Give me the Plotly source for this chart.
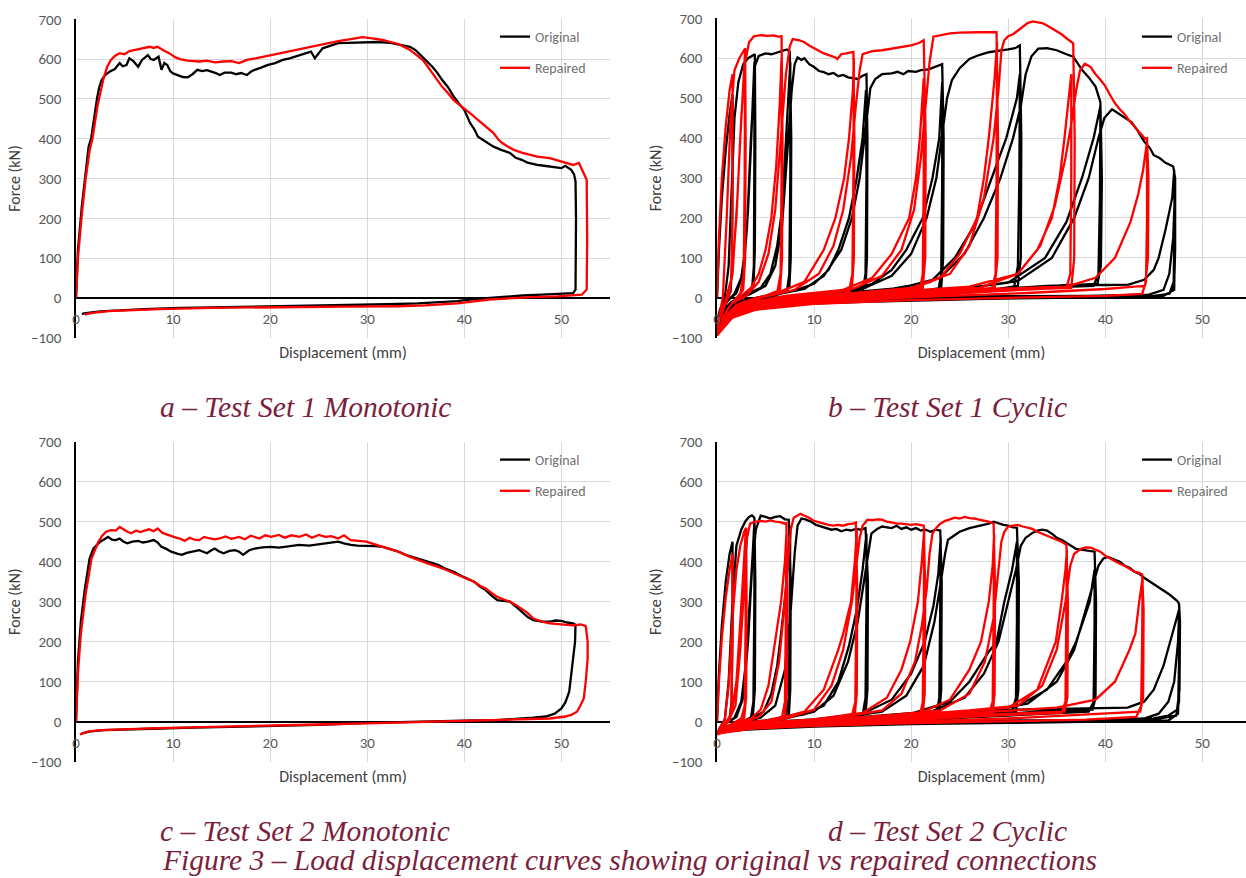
import plotly.graph_objects as go

# ---------------- data (displacement mm, force kN) ----------------
a_original = [(0,0),(0.2,120),(0.6,230),(1.0,320),(1.3,380),(1.56,401),(1.9,460),(2.17,502),(2.4,530),(2.66,548),(3.0,560),(3.5,569),(4.0,575),(4.5,590),(4.8,582),(5.2,585),(5.5,602),(5.9,595),(6.4,581),(6.8,598),(7.4,610),(7.7,600),(8.0,598),(8.5,606),(8.8,573),(9.1,590),(9.4,585),(9.7,570),(10.0,564),(10.5,560),(11.0,555),(11.5,554),(12.0,562),(12.5,573),(13.0,570),(13.5,572),(13.9,569),(14.4,565),(14.8,560),(15.3,566),(16.0,566),(16.5,562),(17.0,565),(17.6,560),(18.0,568),(18.4,573),(19.0,578),(19.7,585),(20.5,590),(21.3,598),(22.0,602),(23.0,610),(23.6,614),(24.2,619),(24.6,602),(25.0,615),(25.4,627),(26.0,632),(27.0,640),(28.0,641),(29.0,642),(29.9,642),(31.0,643),(32.4,641),(33.5,636),(34.4,631),(35.0,622),(35.7,606),(36.2,595),(36.7,581),(37.2,566),(37.7,548),(38.3,530),(38.9,506),(39.4,490),(40.0,472),(40.6,439),(41.0,425),(41.4,405),(42.0,395),(42.5,388),(43.0,380),(43.8,372),(44.7,364),(45.3,352),(45.9,347),(46.5,340),(47.5,334),(48.2,332),(48.8,330),(49.4,327),(50.0,326),(50.4,332),(51.0,322),(51.3,310),(51.45,293),(51.5,200),(51.5,80),(51.45,21),(51.2,12),(50.0,10),(48,8),(46,6),(44,3),(42,0),(40.5,-4),(39.3,-8),(37,-12),(35.2,-14),(32,-16),(29,-17),(25,-19),(20.9,-21),(15,-23),(10.7,-25),(7,-28),(4.5,-31),(2.5,-34),(1.0,-38),(0.6,-40)]

a_repaired = [(0,0),(0.2,100),(0.6,210),(1.0,300),(1.4,370),(1.7,401),(2.2,480),(2.8,548),(3.2,580),(3.6,598),(4.0,608),(4.5,615),(5.0,612),(5.5,620),(6.1,623),(6.8,626),(7.6,631),(8.0,628),(8.4,631),(9.0,622),(9.6,615),(10.2,605),(10.7,600),(11.5,596),(12.7,594),(13.5,596),(14.3,592),(15.2,594),(16.0,595),(16.8,590),(17.6,598),(18.5,602),(19.3,606),(20.1,610),(20.9,615),(22.0,620),(23.4,627),(24.5,633),(25.8,640),(27.0,645),(28.3,650),(29.5,655),(30.5,652),(31.6,648),(32.4,643),(33.2,638),(34.4,623),(35.0,612),(35.7,598),(36.2,582),(36.7,564),(37.2,548),(37.7,531),(38.3,515),(38.9,497),(39.5,485),(40.2,472),(40.8,460),(41.4,447),(42.2,430),(43.0,414),(43.5,398),(43.9,389),(44.5,380),(45.1,372),(45.9,365),(46.7,360),(47.5,355),(48.8,351),(49.5,346),(50.0,343),(50.6,338),(51.2,334),(51.8,339),(52.3,314),(52.6,297),(52.65,150),(52.6,21),(52.1,8),(51.0,6),(49.6,4),(47,2),(44.5,-1),(42.6,-4),(41,-9),(39.3,-14),(36,-19),(33.2,-21),(28,-22),(20,-23),(14,-25),(8.6,-28),(5,-31),(3.3,-33),(1.5,-38),(0.9,-42)]

c_original = [(0,0),(0.2,150),(0.5,250),(0.9,330),(1.4,408),(1.8,433),(2.5,450),(3.3,462),(3.7,455),(4.1,454),(4.5,458),(4.9,450),(5.3,446),(5.8,450),(6.4,452),(6.9,448),(7.4,450),(8.0,454),(8.4,448),(8.8,437),(9.3,432),(9.8,425),(10.4,420),(10.9,417),(11.4,422),(11.9,425),(12.3,427),(12.7,429),(13.1,425),(13.5,421),(13.9,428),(14.3,433),(14.7,426),(15.2,421),(15.8,427),(16.4,429),(16.8,425),(17.2,417),(17.8,428),(18.4,433),(19.2,436),(20.1,437),(20.9,435),(21.8,438),(22.5,440),(23.0,442),(24.0,440),(25.0,443),(25.8,446),(26.5,448),(27.0,450),(27.6,446),(28.3,442),(29.0,440),(29.9,440),(30.8,439),(31.6,437),(32.4,431),(33.2,425),(34.2,415),(35.2,408),(36.2,400),(37.3,392),(38.1,382),(38.9,375),(39.9,362),(41.0,350),(41.6,338),(42.2,329),(42.8,315),(43.4,304),(44.0,302),(44.7,300),(45.3,288),(45.9,275),(46.5,262),(47.1,254),(48.0,250),(48.8,250),(49.4,253),(50.0,252),(50.6,248),(51.2,246),(51.45,242),(51.4,200),(51.2,158),(51.0,110),(50.8,75),(50.4,48),(50.0,33),(49.3,20),(48.4,13),(47.1,10),(45,7),(43.4,4),(41,3),(39.3,2),(35,0),(30,-3),(25,-8),(20,-10),(16.8,-13),(12,-15),(8.6,-17),(5,-19),(2.9,-21),(1.5,-24),(0.6,-29)]

c_repaired = [(0,0),(0.2,120),(0.5,220),(1.0,320),(1.6,408),(2.3,450),(2.7,465),(3.1,475),(3.6,479),(4.1,478),(4.5,487),(4.9,480),(5.3,475),(5.7,471),(6.2,478),(6.6,474),(7.0,477),(7.5,481),(8.0,476),(8.4,483),(8.9,472),(9.4,467),(9.9,464),(10.3,460),(10.7,458),(11.2,452),(11.7,460),(12.2,455),(12.7,454),(13.2,462),(13.8,458),(14.3,456),(14.8,458),(15.4,463),(16.0,457),(16.8,462),(17.4,456),(18.0,465),(18.9,458),(19.5,466),(20.1,462),(20.9,467),(21.5,460),(22.2,466),(23.0,462),(23.7,468),(24.3,460),(25.0,467),(25.7,462),(26.3,464),(27.0,458),(27.6,466),(28.3,454),(29.1,452),(29.9,450),(30.7,444),(31.6,437),(32.4,431),(33.2,425),(34.2,414),(35.2,404),(36.2,396),(37.3,387),(38.1,380),(38.9,371),(40.0,360),(41.0,350),(41.6,340),(42.2,333),(42.8,322),(43.4,312),(44.0,306),(44.7,300),(45.3,292),(45.9,283),(46.5,272),(47.1,258),(48.0,250),(48.8,246),(49.6,244),(50.4,242),(51.2,241),(52.0,243),(52.5,239),(52.7,200),(52.7,158),(52.5,100),(52.3,58),(51.9,38),(51.6,25),(51.0,17),(50.4,13),(48.8,8),(46,6),(43.4,4),(40,2),(35,-1),(30,-4),(25,-7),(20,-9),(16.8,-12),(12,-14),(8.6,-16),(5,-18),(2.5,-21),(1.2,-25),(0.4,-32)]

b_original = [(0,0),(0.2,120),(0.5,250),(0.9,370),(1.3,460),(1.6,510),
 (1.6,300),(1.55,80),(1.4,15),(1.0,-5),(0.5,-25),(0.1,-50),
 (0.3,-30),(0.8,0),(1.2,80),(1.5,250),(1.8,450),(2.2,540),(2.7,585),(3.2,600),(3.6,606),(3.9,610),
 (3.95,400),(3.9,120),(3.75,25),(3.0,8),(2.0,-8),(1.0,-28),(0.4,-48),(0.05,-68),
 (0.3,-40),(1.0,-10),(1.8,10),(2.5,50),(2.9,120),(3.2,220),(3.5,380),(3.7,500),(3.85,590),
 (3.85,350),(3.8,80),(3.6,18),(2.8,2),(1.6,-18),(0.6,-42),(0.05,-66),
 (0.4,-32),(1.2,-5),(2.0,12),(2.7,60),(3.1,180),(3.5,400),(3.9,580),(4.3,606),(5.0,612),(5.6,610),(6.2,615),(6.8,618),(7.2,622),(7.5,616),
 (7.65,400),(7.6,100),(7.45,25),(6.0,8),(4.0,-5),(2.0,-24),(0.8,-45),(0.08,-70),
 (0.5,-35),(1.5,-10),(3.0,8),(4.5,25),(5.5,60),(6.2,130),(6.7,220),(7.1,380),(7.4,520),(7.55,590),
 (7.55,300),(7.45,60),(7.2,15),(5.5,2),(3.5,-12),(1.5,-32),(0.5,-52),(0.06,-70),
 (0.5,-30),(2.0,-5),(3.5,10),(5.0,30),(6.0,80),(6.7,180),(7.3,380),(7.7,520),(8.0,585),(8.3,602),(8.7,596),(9.0,600),(9.5,585),(10.0,578),(10.5,568),(11.0,565),(11.5,560),(12.0,563),(12.5,555),(13.0,558),(13.5,552),(14.0,550),(14.5,548),(15.0,556),(15.4,560),
 (15.5,400),(15.45,100),(15.3,25),(13.0,10),(10.0,0),(6.0,-10),(3.0,-22),(1.2,-40),(0.1,-72),
 (0.6,-35),(2.5,-8),(5.0,5),(8.0,18),(10.0,35),(11.5,70),(12.5,120),(13.6,200),(14.4,300),(15.0,400),(15.35,520),
 (15.4,300),(15.3,60),(15.0,15),(12.0,5),(8.0,-5),(4.0,-18),(1.5,-35),(0.1,-70),
 (0.6,-30),(3.0,-5),(6.0,8),(9.0,22),(11.0,55),(12.8,120),(13.9,200),(14.7,300),(15.2,400),(15.5,470),(15.8,525),(16.3,548),(17.0,560),(18.0,562),(18.6,566),(19.2,560),(19.7,568),(20.5,566),(21.0,570),(21.8,572),(22.5,578),(23.2,585),
 (23.35,400),(23.3,100),(23.1,25),(20.0,12),(15.0,2),(10.0,-8),(5.0,-18),(2.0,-32),(0.1,-72),
 (0.6,-35),(3.0,-8),(8.0,5),(13.0,15),(16.0,35),(18.0,70),(19.5,120),(21.2,200),(22.2,300),(22.9,400),(23.2,540),
 (23.2,300),(23.1,60),(22.8,18),(18.0,8),(12.0,0),(6.0,-12),(2.0,-30),(0.1,-68),
 (0.6,-30),(4.0,-5),(10.0,8),(15.0,22),(18.0,55),(20.0,110),(21.6,200),(22.6,300),(23.3,420),(23.7,500),(24.2,545),(25.0,575),(26.0,598),(27.0,608),(28.0,615),(29.0,618),(30.0,622),(30.7,625),(31.2,632),
 (31.35,400),(31.3,100),(31.0,30),(27.0,15),(20.0,5),(13.0,-5),(6.0,-15),(2.0,-32),(0.1,-70),
 (0.6,-35),(4.0,-8),(10.0,5),(17.0,18),(22.0,40),(24.5,100),(26.5,180),(28.3,300),(29.8,400),(30.9,500),(31.2,560),
 (31.15,300),(31.0,80),(30.6,25),(25.0,12),(18.0,3),(10.0,-8),(4.0,-20),(1.0,-40),(0.1,-68),
 (0.6,-30),(5.0,-3),(12.0,10),(19.0,25),(23.0,50),(25.5,110),(27.5,200),(29.2,300),(30.5,400),(31.3,480),(31.8,560),(32.4,605),(33.1,624),(34.0,625),(35.0,620),(36.0,610),(36.7,604),(37.6,571),(38.3,552),(39.0,529),(39.5,490),
 (39.65,300),(39.55,80),(39.2,35),(34.0,30),(28.0,20),(20.0,8),(12.0,-5),(5.0,-15),(1.0,-38),(0.1,-66),
 (0.6,-30),(5.0,-5),(15.0,10),(25.0,22),(30.0,38),(33.8,100),(36.0,190),(37.6,300),(38.8,400),(39.5,480),
 (39.45,250),(39.3,60),(38.8,30),(33.0,25),(25.0,12),(15.0,0),(6.0,-12),(1.0,-35),(0.1,-64),
 (0.6,-28),(6.0,-2),(16.0,12),(26.0,25),(31.0,42),(34.5,100),(36.8,200),(38.3,300),(39.3,400),(39.9,450),(40.7,472),(41.3,462),(42.0,452),(42.7,440),(43.3,420),(44.0,392),(44.6,375),(45.0,357),(45.6,350),(46.2,338),(46.6,334),(47.0,329),
 (47.2,300),(47.2,120),(47.1,30),(46.6,10),(45.0,5),(40.0,2),(33.0,0),(25.0,-5),(15.0,-10),(6.0,-18),(1.0,-35),(0.1,-60),
 (0.6,-25),(5.0,-5),(15.0,8),(25.0,16),(31.0,25),(36.2,32),(40.0,32),(42.4,33),(44.0,45),(45.0,70),(45.5,100),(46.2,170),(46.9,250),(47.1,320),
 (47.15,200),(47.05,40),(46.6,10),(45.0,5),(40.0,2),(30.0,-2),(20.0,-6),(8.0,-14),(2.0,-25),(0.5,-40),
 (0.6,-22),(10.0,2),(20.0,3),(30.0,4),(38.0,5),(44.5,8),(46.0,20),(46.6,60),(47.0,150),(47.2,280),
 (47.2,150),(47.1,20),(46.0,5),(35.0,0),(25.0,-3),(15.0,-8),(6.0,-15)]

b_repaired = [(0,0),(0.2,150),(0.5,300),(0.9,430),(1.3,520),(1.6,560),
 (1.6,300),(1.5,60),(1.3,10),(0.9,-15),(0.4,-45),(0.02,-85),
 (0.2,-50),(0.6,0),(1.0,200),(1.4,450),(1.8,570),(2.3,600),(2.9,625),
 (2.95,400),(2.9,100),(2.7,20),(2.0,0),(1.2,-25),(0.5,-55),(0.02,-90),
 (0.3,-50),(0.9,-5),(1.5,50),(2.0,200),(2.4,400),(2.75,580),(2.9,620),
 (2.85,300),(2.75,60),(2.4,10),(1.5,-15),(0.7,-45),(0.02,-90),
 (0.3,-50),(1.0,-5),(1.6,60),(2.1,250),(2.5,450),(2.9,590),(3.3,640),(3.8,655),(4.5,658),(5.2,656),(5.8,657),(6.3,654),(6.65,655),
 (6.75,400),(6.7,100),(6.5,20),(5.0,5),(3.0,-12),(1.5,-35),(0.5,-60),(0.02,-92),
 (0.4,-55),(1.5,-15),(2.5,5),(3.5,25),(4.3,60),(5.0,120),(5.6,200),(6.1,330),(6.45,480),(6.65,600),
 (6.65,300),(6.55,60),(6.2,12),(4.5,0),(2.5,-18),(1.0,-45),(0.02,-93),
 (0.4,-55),(1.5,-15),(3.0,5),(4.3,40),(5.3,110),(6.0,220),(6.6,400),(7.1,560),(7.5,630),(7.8,648),(8.5,645),(9.0,640),(9.5,632),(10.0,625),(10.5,618),(11.0,612),(11.6,607),(12.2,602),(12.4,598),(12.8,610),(13.3,612),(13.8,615),(14.05,616),
 (14.15,400),(14.1,100),(13.9,25),(11.0,10),(8.0,0),(5.0,-12),(2.5,-30),(1.0,-55),(0.02,-95),
 (0.5,-55),(2.0,-18),(4.0,0),(6.0,10),(9.0,40),(11.0,120),(12.2,200),(13.1,300),(13.6,400),(14.0,520),(14.1,600),
 (14.05,300),(13.95,60),(13.6,15),(10.0,5),(6.0,-5),(3.0,-22),(1.0,-50),(0.02,-94),
 (0.5,-52),(2.5,-12),(5.0,3),(8.0,20),(10.5,60),(12.0,130),(13.0,220),(13.8,350),(14.3,480),(14.7,570),(15.0,610),(16.0,618),(17.0,620),(18.0,624),(19.0,628),(20.0,632),(20.8,638),(21.3,645),
 (21.5,400),(21.45,100),(21.2,25),(17.0,12),(12.0,2),(7.0,-10),(3.0,-28),(1.0,-55),(0.02,-95),
 (0.5,-55),(3.0,-15),(7.0,5),(13.0,20),(16.0,50),(18.0,110),(19.8,200),(20.5,300),(20.9,400),(21.3,550),
 (21.3,300),(21.2,60),(20.9,18),(16.0,8),(10.0,-2),(5.0,-15),(2.0,-35),(0.02,-94),
 (0.5,-50),(3.0,-12),(8.0,5),(14.0,22),(17.0,55),(19.0,120),(20.3,220),(21.0,350),(21.5,480),(21.9,590),(22.3,654),(23.0,658),(24.0,662),(25.0,664),(26.0,665),(27.0,665),(28.0,665),(28.8,665),
 (28.95,400),(28.9,100),(28.6,25),(23.0,15),(15.0,3),(8.0,-10),(3.0,-28),(1.0,-55),(0.02,-95),
 (0.5,-55),(4.0,-12),(10.0,5),(20.0,22),(23.0,50),(25.0,110),(26.8,200),(27.5,300),(28.0,400),(28.6,550),(28.85,640),
 (28.8,300),(28.7,60),(28.3,20),(22.0,12),(14.0,0),(6.0,-15),(2.0,-38),(0.02,-94),
 (0.5,-52),(4.0,-10),(12.0,8),(20.0,25),(24.0,60),(26.0,130),(27.5,250),(28.5,400),(29.0,520),(29.3,620),(29.6,645),(30.0,655),(30.5,660),(31.0,670),(31.6,680),(32.0,688),(32.5,692),(33.0,690),(33.5,688),(34.0,682),(34.5,675),(35.0,668),(35.5,660),(36.0,650),(36.5,640),(36.7,637),
 (36.85,400),(36.8,100),(36.5,25),(30.0,20),(22.0,8),(12.0,-5),(5.0,-20),(1.5,-45),(0.02,-95),
 (0.5,-55),(5.0,-12),(15.0,8),(27.0,25),(31.0,60),(33.0,120),(34.5,200),(35.3,300),(35.8,400),(36.5,560),
 (36.5,300),(36.4,60),(36.0,25),(30.0,18),(20.0,5),(10.0,-8),(4.0,-25),(1.0,-50),(0.02,-94),
 (0.5,-52),(5.0,-8),(15.0,10),(26.0,28),(31.0,60),(33.3,130),(34.8,230),(35.9,350),(36.6,450),(37.0,520),(37.4,570),(37.9,586),(38.5,578),(39.0,560),(39.5,546),(40.0,530),(40.5,508),(41.0,487),(41.5,472),(42.0,460),(42.4,446),(43.0,430),(43.6,412),(44.1,398),(44.3,400),
 (44.45,300),(44.4,100),(44.1,30),(40.0,22),(32.0,12),(22.0,3),(12.0,-8),(5.0,-22),(1.0,-50),(0.02,-92),
 (0.5,-50),(5.0,-10),(15.0,8),(28.0,22),(36.0,28),(39.0,50),(41.0,100),(42.6,190),(43.4,260),(43.9,320),(44.3,390),
 (44.3,200),(44.2,40),(43.8,10),(40.0,5),(30.0,0),(20.0,-6),(10.0,-15),(4.0,-30),(1.0,-55),(0.1,-85)]

d_original = [(0,0),(0.2,120),(0.5,240),(0.9,350),(1.3,420),(1.6,450),
 (1.6,250),(1.5,50),(1.3,8),(0.8,-8),(0.3,-20),(0.02,-30),
 (0.3,-15),(0.8,5),(1.2,100),(1.6,300),(2.0,440),(2.5,480),(2.9,500),(3.3,512),(3.6,516),(3.85,510),
 (3.95,350),(3.9,80),(3.7,15),(3.0,3),(2.0,-5),(1.0,-14),(0.3,-24),(0.02,-30),
 (0.3,-18),(1.0,-3),(1.8,10),(2.5,50),(3.0,150),(3.4,300),(3.7,430),(3.85,500),
 (3.85,300),(3.75,50),(3.5,10),(2.5,0),(1.5,-8),(0.5,-20),(0.02,-30),
 (0.4,-15),(1.2,0),(2.0,12),(2.7,60),(3.2,200),(3.6,380),(4.0,480),(4.5,515),(5.0,512),(5.5,508),(6.0,512),(6.5,514),(7.0,506),(7.4,505),
 (7.6,350),(7.55,80),(7.4,15),(6.0,3),(4.0,-5),(2.0,-12),(0.6,-22),(0.02,-30),
 (0.5,-16),(2.0,-3),(3.5,8),(4.8,25),(5.6,70),(6.2,140),(6.6,220),(7.1,330),(7.4,430),(7.55,490),
 (7.5,300),(7.4,60),(7.1,12),(5.0,2),(3.0,-6),(1.0,-18),(0.02,-30),
 (0.5,-15),(2.5,-2),(4.5,10),(6.0,40),(7.0,130),(7.6,280),(8.0,420),(8.3,490),(8.7,508),(9.2,505),(9.7,500),(10.2,492),(10.8,488),(11.3,485),(11.8,480),(12.3,482),(12.8,476),(13.3,480),(13.8,478),(14.3,482),(14.8,480),(15.3,484),
 (15.55,350),(15.5,80),(15.3,20),(12.0,8),(8.0,0),(4.0,-8),(1.5,-16),(0.02,-30),
 (0.5,-16),(3.0,-3),(6.0,6),(9.0,18),(11.0,40),(12.5,100),(13.6,190),(14.4,280),(15.0,380),(15.4,470),
 (15.4,300),(15.3,60),(15.0,15),(11.0,5),(6.0,-3),(2.0,-14),(0.02,-29),
 (0.5,-14),(3.0,-2),(7.0,8),(10.0,25),(12.0,65),(13.5,150),(14.5,250),(15.2,360),(15.6,430),(15.9,470),(16.5,482),(17.0,488),(17.5,486),(18.0,484),(18.5,490),(19.0,482),(19.5,486),(20.0,480),(20.5,484),(21.0,478),(21.5,480),(22.0,475),(22.5,480),(23.0,478),
 (23.15,350),(23.1,80),(22.9,20),(18.0,10),(12.0,0),(6.0,-8),(2.0,-16),(0.02,-30),
 (0.5,-16),(4.0,-3),(10.0,6),(15.0,20),(18.0,55),(20.0,120),(21.4,200),(22.3,290),(22.8,370),(23.05,460),
 (23.0,300),(22.9,60),(22.6,15),(17.0,6),(10.0,-3),(4.0,-12),(0.02,-29),
 (0.5,-14),(5.0,-2),(12.0,8),(17.0,25),(19.5,65),(21.3,140),(22.4,250),(23.0,340),(23.5,420),(23.8,455),(24.5,468),(25.0,475),(26.0,484),(27.0,490),(28.0,495),(28.5,500),(29.0,496),(29.5,492),(30.0,490),(30.5,486),(30.9,485),
 (31.1,350),(31.05,80),(30.8,25),(26.0,15),(18.0,3),(10.0,-5),(4.0,-12),(0.02,-28),
 (0.5,-15),(5.0,-3),(12.0,6),(20.0,20),(24.0,50),(26.0,100),(28.0,175),(28.8,200),(29.6,300),(30.4,380),(30.9,450),
 (30.9,250),(30.8,60),(30.4,25),(25.0,15),(17.0,3),(8.0,-6),(2.0,-16),(0.02,-28),
 (0.5,-13),(6.0,-1),(14.0,10),(22.0,25),(25.5,60),(27.5,120),(29.0,200),(30.0,300),(30.8,380),(31.3,440),(31.8,460),(32.5,472),(33.0,478),(33.5,480),(34.0,478),(34.5,470),(35.0,460),(35.5,455),(36.0,448),(36.5,440),(37.0,432),(37.5,430),(38.0,428),(38.5,426),(38.9,425),
 (39.05,300),(39.0,60),(38.7,30),(33.0,25),(25.0,12),(15.0,2),(6.0,-8),(1.0,-18),(0.02,-27),
 (0.5,-13),(6.0,-1),(16.0,10),(26.0,22),(31.0,40),(34.0,80),(36.0,150),(37.0,200),(38.4,300),(38.9,380),
 (38.9,250),(38.8,50),(38.3,25),(32.0,18),(22.0,6),(12.0,-3),(4.0,-12),(0.02,-27),
 (0.5,-12),(7.0,0),(17.0,12),(27.0,25),(32.0,45),(35.0,100),(36.8,180),(38.0,280),(38.8,350),(39.3,390),(39.8,408),(40.3,412),(41.0,405),(41.5,400),(42.0,390),(42.5,385),(43.0,375),(43.5,370),(44.0,360),(44.5,352),(45.0,345),(45.5,338),(46.0,330),(46.5,320),(47.0,310),(47.4,302),(47.6,295),
 (47.7,250),(47.65,80),(47.4,30),(46.5,15),(45.0,8),(40.0,3),(32.0,0),(22.0,-4),(12.0,-10),(4.0,-18),(0.5,-25),
 (0.5,-15),(6.0,-2),(16.0,10),(25.0,22),(30.0,30),(36.0,32),(42.3,35),(44.0,50),(45.0,80),(46.0,140),(46.8,210),(47.4,260),(47.6,280),
 (47.65,180),(47.6,50),(47.3,15),(45.0,6),(40.0,2),(32.0,0),(20.0,-5),(10.0,-12),(3.0,-20),(0.5,-26),
 (0.6,-14),(8.0,0),(20.0,2),(32.0,3),(40.0,4),(44.0,8),(45.5,20),(46.5,50),(47.1,100),(47.5,200),(47.6,270),
 (47.6,150),(47.5,20),(46.5,3),(40.0,0),(30.0,-3),(20.0,-6),(10.0,-12)]

d_repaired = [(0,0),(0.2,100),(0.5,210),(0.9,310),(1.3,380),(1.6,420),
 (1.6,220),(1.5,40),(1.3,5),(0.8,-10),(0.3,-22),(0.02,-32),
 (0.3,-15),(0.8,5),(1.2,90),(1.6,260),(2.0,380),(2.4,440),(2.8,475),(3.0,485),
 (3.05,300),(3.0,60),(2.8,10),(2.0,-2),(1.0,-15),(0.3,-25),(0.02,-32),
 (0.3,-18),(0.9,-2),(1.5,20),(2.0,100),(2.4,250),(2.7,380),(2.95,470),
 (2.95,250),(2.85,40),(2.5,8),(1.5,-5),(0.5,-20),(0.02,-32),
 (0.4,-16),(1.2,2),(1.9,40),(2.4,180),(2.8,350),(3.1,460),(3.4,495),(4.0,500),(4.5,502),(5.0,500),(5.5,503),(6.0,500),(6.5,499),(7.0,495),(7.15,496),
 (7.25,320),(7.2,70),(7.0,15),(5.5,3),(3.5,-6),(1.5,-16),(0.3,-26),(0.02,-32),
 (0.5,-18),(2.0,-3),(3.5,8),(4.5,30),(5.3,90),(6.0,200),(6.6,300),(7.0,400),(7.15,470),
 (7.1,280),(7.0,50),(6.7,12),(4.8,2),(2.8,-8),(0.8,-20),(0.02,-32),
 (0.5,-16),(2.5,-2),(4.3,12),(5.6,50),(6.4,150),(6.9,280),(7.3,400),(7.6,480),(7.9,510),(8.3,515),(8.6,520),(9.0,515),(9.5,510),(10.0,502),(10.5,498),(11.0,495),(11.5,492),(12.0,490),(12.5,492),(13.0,490),(13.5,494),(14.0,495),(14.3,498),
 (14.45,330),(14.4,70),(14.2,20),(11.0,8),(7.0,0),(3.5,-8),(1.0,-18),(0.02,-32),
 (0.5,-18),(3.0,-4),(6.0,6),(9.0,25),(11.0,80),(12.5,180),(13.0,220),(13.8,300),(14.2,400),(14.4,480),
 (14.35,280),(14.25,50),(13.9,15),(10.0,5),(6.0,-3),(2.0,-14),(0.02,-31),
 (0.5,-15),(3.0,-2),(7.0,8),(10.0,30),(11.8,90),(13.0,180),(13.9,300),(14.4,400),(14.7,460),(15.0,490),(15.5,505),(16.0,504),(16.5,506),(17.0,505),(17.5,500),(18.0,498),(18.5,495),(19.0,495),(19.5,493),(20.0,492),(20.5,494),(21.0,492),(21.3,490),
 (21.45,330),(21.4,70),(21.2,20),(17.0,10),(11.0,0),(5.0,-9),(1.5,-18),(0.02,-32),
 (0.5,-18),(4.0,-4),(10.0,6),(15.0,22),(17.5,60),(19.0,130),(19.9,200),(20.7,300),(21.1,400),(21.35,480),
 (21.3,280),(21.2,50),(20.9,15),(16.0,6),(9.0,-4),(3.0,-14),(0.02,-31),
 (0.5,-15),(5.0,-2),(12.0,8),(17.0,28),(19.0,70),(20.4,150),(21.1,240),(21.6,330),(21.9,420),(22.2,470),(22.6,485),(23.0,495),(23.5,502),(24.0,506),(24.5,510),(25.0,508),(25.5,512),(26.0,509),(26.5,508),(27.0,505),(27.5,502),(28.0,500),(28.5,495),
 (28.65,330),(28.6,70),(28.4,22),(23.0,12),(15.0,2),(7.0,-8),(2.0,-18),(0.02,-31),
 (0.5,-18),(5.0,-4),(13.0,8),(21.0,22),(24.0,55),(26.0,130),(27.2,200),(28.0,300),(28.4,390),(28.55,470),
 (28.5,280),(28.4,50),(28.0,18),(22.0,8),(13.0,-2),(5.0,-12),(0.02,-30),
 (0.5,-14),(6.0,-1),(15.0,10),(23.0,28),(26.0,70),(27.6,150),(28.5,260),(29.0,380),(29.3,450),(29.6,475),(30.0,488),(30.5,490),(31.0,492),(31.5,488),(32.0,485),(32.5,482),(33.0,475),(33.5,470),(34.0,465),(34.5,460),(35.0,455),(35.5,450),(36.0,442),
 (36.15,300),(36.1,60),(35.8,25),(30.0,20),(22.0,8),(12.0,-3),(4.0,-13),(0.02,-30),
 (0.5,-16),(6.0,-2),(16.0,10),(25.0,25),(30.0,35),(33.0,80),(34.9,200),(35.5,300),(35.9,380),(36.05,430),
 (36.0,250),(35.9,50),(35.5,22),(29.0,16),(20.0,5),(10.0,-5),(3.0,-15),(0.02,-30),
 (0.5,-14),(7.0,0),(17.0,12),(26.0,28),(31.0,40),(33.5,90),(35.0,180),(35.9,300),(36.4,390),(36.8,420),(37.5,432),(38.0,436),(38.5,435),(39.0,430),(39.5,425),(40.0,415),(40.5,408),(41.0,400),(41.5,395),(42.0,390),(42.5,382),(43.0,375),(43.5,372),(43.8,368),
 (43.95,280),(43.9,60),(43.6,25),(38.0,18),(30.0,8),(20.0,0),(10.0,-8),(3.0,-18),(0.02,-30),
 (0.5,-15),(7.0,-1),(18.0,10),(28.0,25),(35.0,35),(39.0,55),(41.0,100),(42.5,180),(43.1,220),(43.5,300),(43.85,360),
 (43.8,200),(43.7,40),(43.2,12),(38.0,5),(28.0,0),(18.0,-5),(8.0,-12),(2.0,-20)]

series_names = ["Original", "Repaired"]
series_colors = ["#000000", "#ff0000"]
y_ticks = [-100, 0, 100, 200, 300, 400, 500, 600, 700]
x_ticks = [0, 10, 20, 30, 40, 50]
captions = ["a \u2013 Test Set 1 Monotonic", "b \u2013 Test Set 1 Cyclic",
            "c \u2013 Test Set 2 Monotonic", "d \u2013 Test Set 2 Cyclic"]
figure_caption = "Figure 3 \u2013 Load displacement curves showing original vs repaired connections"

# ---------------- layout geometry ----------------
W, H = 1246, 878
FONT = "Carlito, Lato, sans-serif"
TICK_COLOR = "#595959"
TITLE_COLOR = "#404040"
GRID = "#d9d9d9"

def px_x(p):
    return p / W

def px_y(p):
    return 1 - p / H

panels = [
    dict(data=(a_original, a_repaired), xdom=[px_x(76), px_x(610)], xr=[0, 55], ydom=[px_y(337.7), px_y(19.3)]),
    dict(data=(b_original, b_repaired), xdom=[px_x(717), 1.0], xr=[0, 54.5], ydom=[px_y(337.7), px_y(18.3)]),
    dict(data=(c_original, c_repaired), xdom=[px_x(76), px_x(610)], xr=[0, 55], ydom=[px_y(761.7), px_y(441.7)]),
    dict(data=(d_original, d_repaired), xdom=[px_x(717), 1.0], xr=[0, 54.5], ydom=[px_y(761.7), px_y(441.7)]),
]
legend_pos = [(px_x(495), px_y(21)), (px_x(1137), px_y(21)), (px_x(495), px_y(444)), (px_x(1137), px_y(444))]

fig = go.Figure()
layout = dict(width=W, height=H, margin=dict(l=0, r=0, t=0, b=0), autosize=False,
              template="none", paper_bgcolor="white", plot_bgcolor="white",
              font=dict(family=FONT, color=TICK_COLOR))

for i, p in enumerate(panels):
    n = i + 1
    xa = "x" if n == 1 else f"x{n}"
    ya = "y" if n == 1 else f"y{n}"
    lg = "legend" if n == 1 else f"legend{n}"
    for s, pts in enumerate(p["data"]):
        fig.add_trace(go.Scatter(
            x=[q[0] for q in pts], y=[q[1] for q in pts], mode="lines",
            line=dict(color=series_colors[s], width=2.3),
            name=series_names[s], xaxis=xa, yaxis=ya, legend=lg,
            legendgroup=f"{n}-{s}", hoverinfo="skip"))
    layout["xaxis" if n == 1 else f"xaxis{n}"] = dict(
        domain=p["xdom"], range=p["xr"], anchor=ya, tickmode="array", tickvals=x_ticks,
        showgrid=True, gridcolor=GRID, gridwidth=1, zeroline=False, showline=False,
        ticks="", tickfont=dict(family=FONT, size=15, color=TICK_COLOR),
        ticklabelstandoff=-30, automargin=False,
        title=dict(text="Displacement (mm)", font=dict(family=FONT, size=16, color=TITLE_COLOR), standoff=20))
    layout["yaxis" if n == 1 else f"yaxis{n}"] = dict(
        domain=p["ydom"], range=[-100, 700], anchor=xa, tickmode="array", tickvals=y_ticks,
        showgrid=True, gridcolor=GRID, gridwidth=1,
        zeroline=True, zerolinecolor="#000000", zerolinewidth=1.5,
        showline=True, linecolor="#000000", linewidth=1.5,
        ticks="", tickfont=dict(family=FONT, size=15, color=TICK_COLOR),
        ticklabelstandoff=10, automargin=False,
        title=dict(text="Force (kN)", font=dict(family=FONT, size=16, color=TITLE_COLOR), standoff=6))
    lx, ly = legend_pos[i]
    layout[lg] = dict(x=lx, y=ly, xanchor="left", yanchor="top", bgcolor="rgba(0,0,0,0)",
                      font=dict(family=FONT, size=14, color="#707070"), tracegroupgap=10,
                      itemclick=False, itemdoubleclick=False)

cap_font = dict(family="Liberation Serif, Times New Roman, serif", size=29.5, color="#7a1f3d")
cap_pos = [(158, 407), (826, 407), (158, 831), (826, 831)]
annotations = []
for txt, (cx, cy) in zip(captions, cap_pos):
    annotations.append(dict(text=f"<i>{txt}</i>", x=px_x(cx), y=px_y(cy), xref="paper", yref="paper",
                            xanchor="left", yanchor="middle", showarrow=False, font=cap_font))
annotations.append(dict(text=f"<i>{figure_caption}</i>", x=px_x(160), y=0, xref="paper", yref="paper",
                        xanchor="left", yanchor="bottom", showarrow=False, font=cap_font))
layout["annotations"] = annotations
fig.update_layout(**layout)

fig.write_html("out.html", config={"displayModeBar": False},
               post_script="document.body.style.margin='0px';document.body.style.overflow='hidden';")
